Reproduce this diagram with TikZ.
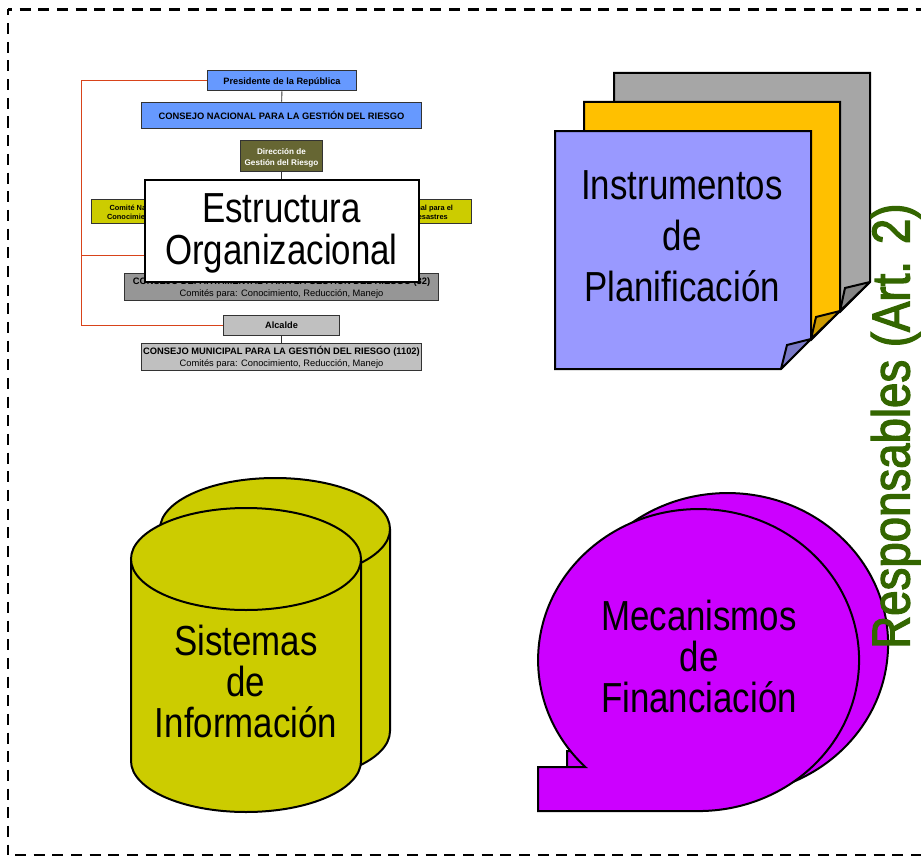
\documentclass[tikz,border=0pt]{standalone}
\usepackage{fontspec}
\setmainfont{Liberation Sans}
\newfontfamily\narrowfont[FakeStretch=0.83]{Liberation Sans}
\newfontfamily\respfont[FakeStretch=0.855,FakeBold=2.2]{Liberation Sans}
\definecolor{orgblue}{HTML}{6699FF}
\definecolor{orgolive}{HTML}{666633}
\definecolor{orgyellow}{HTML}{CCCC00}
\definecolor{orggray}{HTML}{969696}
\definecolor{orglight}{HTML}{C0C0C0}
\definecolor{orgline}{HTML}{333333}
\definecolor{orgred}{HTML}{D8431A}
\definecolor{sheetgray}{HTML}{A6A6A6}
\definecolor{sheetgrayf}{HTML}{858585}
\definecolor{sheetorange}{HTML}{FFC000}
\definecolor{sheetorangef}{HTML}{CC9A00}
\definecolor{sheetblue}{HTML}{9999FF}
\definecolor{sheetbluef}{HTML}{7A7AC8}
\definecolor{drum}{HTML}{CCCC00}
\definecolor{tape}{HTML}{CC00FF}
\definecolor{respgreen}{HTML}{336600}
\tikzset{
  orgbox/.style={draw=orgline,line width=.7pt,inner sep=0pt,align=center},
  orgtie/.style={draw=orgline,line width=.7pt},
  redtie/.style={draw=orgred,line width=.75pt},
  bigshape/.style={draw=black,line width=1.5pt,line join=miter,miter limit=3},
  bigtext/.style={align=center,inner sep=0pt,font=\narrowfont\fontsize{31.5}{38}\selectfont},
  framedash/.style={draw=black,line width=2pt},
}
\begin{document}
\begin{tikzpicture}[x=.75pt,y=-.75pt]
\useasboundingbox (0,0) rectangle (921,856);
% frame
\coordinate (fa) at (921,9.5);
\coordinate (fb) at (8,9.5);
\coordinate (fc) at (8,855);
\coordinate (fd) at (921,855);
\coordinate (fe) at (15,855);
\draw[framedash,dash pattern=on 8.25pt off 5.75pt,dash phase=5.25pt] (fb) -- (fa);
\draw[framedash,dash pattern=on 8.25pt off 5.75pt,dash phase=3.75pt] (fb) -- (fc);
\draw[framedash,dash pattern=on 8.25pt off 5.75pt] (fe) -- (fd);

% org chart
\node[orgbox,fill=orgblue,minimum width=112pt,minimum height=15.5pt,font=\bfseries\fontsize{6.9}{8}\selectfont] (pres) at (282,80.5) {\rule{0pt}{7.3pt}Presidente de la República};
\node[orgbox,fill=orgblue,minimum width=210.25pt,minimum height=20pt,font=\bfseries\fontsize{7}{8}\selectfont] (cnal) at (281.5,115.5) {CONSEJO NACIONAL PARA LA GESTIÓN DEL RIESGO};
\node[orgbox,fill=orgolive,text=white,minimum width=61.75pt,minimum height=23.5pt,font=\bfseries\fontsize{6.1}{8.2}\selectfont] (dir) at (281.5,156) {\rule{0pt}{6.6pt}Dirección de\\Gestión del Riesgo};
\node[orgbox,fill=orgyellow,minimum width=90.5pt,minimum height=18.5pt,font=\bfseries\fontsize{5.55}{6.6}\selectfont] (yl) at (151.5,211.5) {\rule{0pt}{6.2pt}Comité Nacional para el\\Conocimiento del Riesgo};
\node[orgbox,fill=orgyellow,minimum width=90.5pt,minimum height=18.5pt,font=\bfseries\fontsize{5.55}{6.6}\selectfont] (yr) at (411,211.5) {\rule{0pt}{6.2pt}Comité Nacional para el\\Manejo de Desastres};
\node[orgbox,fill=orggray,minimum width=235.75pt,minimum height=20.75pt,font=\fontsize{7}{9}\selectfont] (dep) at (281.5,287) {\rule{0pt}{7.4pt}\textbf{CONSEJO DEPARTAMENTAL PARA LA GESTIÓN DEL RIESGO (32)}\\Comités para: Conocimiento, Reducción, Manejo};
\node[orgbox,fill=orglight,minimum width=87.25pt,minimum height=15.5pt,font=\bfseries\fontsize{6.9}{8}\selectfont] (alc) at (281.5,325.5) {Alcalde};
\node[orgbox,fill=orglight,minimum width=210.25pt,minimum height=20.75pt,font=\fontsize{7}{9}\selectfont] (mun) at (281.5,357) {\rule{0pt}{7.4pt}\textbf{CONSEJO MUNICIPAL PARA LA GESTIÓN DEL RIESGO (1102)}\\Comités para: Conocimiento, Reducción, Manejo};
\draw[orgtie] (pres) -- (cnal);
\draw[orgtie] (alc) -- (mun);
\coordinate (rt) at (81,80.5);
\coordinate (rb) at (81,325.5);
\coordinate (rm) at (81,255);
\coordinate (rm2) at (144,255);
\draw[redtie] (pres.west) -- (rt) -- (rb) -- (alc.west);
\draw[redtie] (rm) -- (rm2);
\node[draw=black,line width=1.5pt,fill=white,minimum width=205.5pt,minimum height=76pt,inner sep=0pt,bigtext] (est) at (281.5,231) {\rule{0pt}{26pt}Estructura\\[-6.5pt]Organizacional};
\draw[orgtie,line width=1.2pt] (dir) -- (est);

% planning sheets
\draw[bigshape,fill=sheetgray] (614,73) -- (870,73) -- (870,282) -- (840,312) -- (614,312) -- cycle;
\draw[bigshape,fill=sheetgrayf] (840,311) -- (845,288) -- (870,282) -- cycle;
\draw[bigshape,fill=sheetorange] (584,102) -- (840,102) -- (840,311) -- (811,340) -- (584,340) -- cycle;
\draw[bigshape,fill=sheetorangef] (811,339) -- (816,317) -- (840,311) -- cycle;
\draw[bigshape,fill=sheetblue] (555,131) -- (811,131) -- (811,339) -- (781,369) -- (555,369) -- cycle;
\draw[bigshape,fill=sheetbluef] (781,369) -- (787,345) -- (811,339) -- cycle;
\node[bigtext,font=\narrowfont\fontsize{31.5}{38.25}\selectfont] (instr) at (682,236.5) {Instrumentos\\de\\Planificación};

% cylinders
\path[fill=drum] (160,529) rectangle (390,731);
\fill[drum] (275,731) ellipse [x radius=115,y radius=51];
\draw[bigshape] (160,731) -- (160,529);
\draw[bigshape] (390,529) -- (390,731) arc [start angle=0,end angle=180,x radius=115,y radius=51];
\draw[bigshape,fill=drum] (275,529) ellipse [x radius=115,y radius=51];
\path[fill=drum] (131,559) rectangle (361,761);
\fill[drum] (246,761) ellipse [x radius=115,y radius=51];
\draw[bigshape] (361,559) -- (361,761) arc [start angle=0,end angle=180,x radius=115,y radius=51] -- (131,559);
\draw[bigshape,fill=drum] (246,559) ellipse [x radius=115,y radius=51];
\node[bigtext,font=\narrowfont\fontsize{31.5}{30.75}\selectfont] (sis) at (246,681) {Sistemas\\de\\Información};

% tape shapes
\draw[bigshape,fill=tape] (614.3,751) arc [start angle=134.9,end angle=450,x radius=160.5,y radius=151] -- (567,795) -- (567,751) -- cycle;
\draw[bigshape,fill=tape] (585.3,767) arc [start angle=134.9,end angle=450,x radius=160.5,y radius=151] -- (538,811) -- (538,767) -- cycle;
\node[bigtext,font=\narrowfont\fontsize{31.5}{30.75}\selectfont] (mec) at (699,656) {Mecanismos\\de\\Financiación};

% side title
\node[rotate=90,anchor=base west,inner sep=0pt,text=respgreen,font=\respfont\fontsize{40}{48}\selectfont] (resp) at (909.5,649) {Responsables (Art. 2)};
\end{tikzpicture}
\end{document}
